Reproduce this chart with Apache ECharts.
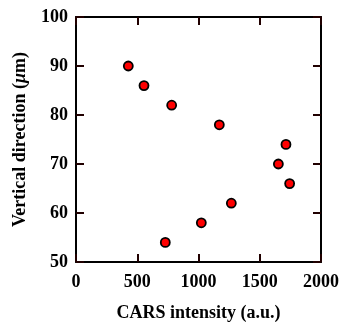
<!DOCTYPE html>
<html>
<head>
<meta charset="utf-8">
<script src="https://cdn.jsdelivr.net/npm/echarts@6/dist/echarts.min.js"></script>
<style>
html,body{margin:0;padding:0;background:#fff;}
#main{width:339px;height:325px;}
</style>
</head>
<body>
<div id="main"></div>
<script>
// CARS 强度 vs 垂直方向
var intensity = [427, 555, 781, 1170, 1714, 1652, 1744, 1268, 1023, 729];
var vertical = [90, 86, 82, 78, 74, 70, 66, 62, 58, 54];

var points = [];
for (var i = 0; i < intensity.length; i++) {
	points.push([intensity[i], vertical[i]]);
}

var fontFam = '"Liberation Serif", "Times New Roman", serif';
var tickCol = '#200000';

function baseAxis(extra) {
	var a = {
		type: 'value',
		axisLine: {show: true, onZero: false, lineStyle: {color: '#000', width: 2}},
		axisTick: {show: true, inside: true, length: 8, lineStyle: {color: tickCol, width: 2}},
		splitLine: {show: false},
		axisLabel: {show: false}
	};
	for (var k in extra) a[k] = extra[k];
	return a;
}

// 反向平移的轴，用外侧刻度画出朝内的刻度
function tickAxis(pos, min, max, iv) {
	return {
		type: 'value', position: pos, offset: -245,
		min: min, max: max, interval: iv,
		axisLine: {show: false, onZero: false},
		axisTick: {show: true, inside: false, length: 8, lineStyle: {color: tickCol, width: 2}},
		splitLine: {show: false},
		axisLabel: {show: false}
	};
}

var labelStyle = {show: true, color: '#000', fontFamily: fontFam, fontWeight: 'bold', fontSize: 18,
	formatter: function (v) { return String(v); }};

var myChart = echarts.init(document.getElementById('main'));
var option = {
	animation: false,
	grid: {left: 76, top: 17, width: 245, height: 245, outerBoundsMode: 'none'},
	xAxis: [
		baseAxis({
			position: 'bottom', min: 0, max: 2000, interval: 500,
			axisLabel: Object.assign({margin: 11}, labelStyle),
			name: 'CARS intensity (a.u.)', nameLocation: 'middle', nameGap: 42,
			nameTextStyle: {color: '#000', fontFamily: fontFam, fontWeight: 'bold', fontSize: 18}
		}),
		baseAxis({position: 'top', min: 0, max: 2000, interval: 500}),
		tickAxis('top', 0, 2000, 500),
		tickAxis('bottom', 0, 2000, 500)
	],
	yAxis: [
		baseAxis({
			position: 'left', min: 50, max: 100, interval: 10,
			axisLabel: Object.assign({margin: 8}, labelStyle),
			name: '{b|Vertical direction (}{i|μ}{b|m)}', nameLocation: 'middle', nameGap: 47,
			nameTextStyle: {
				rich: {
					b: {color: '#000', fontFamily: fontFam, fontWeight: 'bold', fontSize: 18},
					i: {color: '#000', fontFamily: fontFam, fontWeight: 'bold', fontStyle: 'italic', fontSize: 18}
				}
			}
		}),
		baseAxis({position: 'right', min: 50, max: 100, interval: 10}),
		tickAxis('left', 50, 100, 10),
		tickAxis('right', 50, 100, 10)
	],
	series: [{
		type: 'scatter',
		data: points,
		symbol: 'circle',
		symbolSize: 9,
		itemStyle: {color: '#ff0000', borderColor: '#000', borderWidth: 1.8, opacity: 1}
	}]
};
myChart.setOption(option);
</script>
</body>
</html>
